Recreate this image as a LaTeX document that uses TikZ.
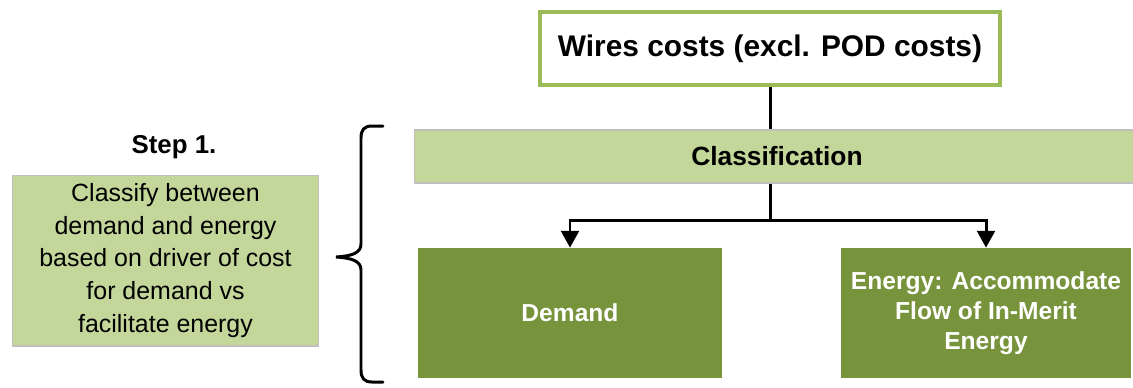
\documentclass[tikz,border=0pt]{standalone}
\usepackage{fontspec}
\setmainfont{Liberation Sans}
\usepackage{tikz}
\usetikzlibrary{arrows.meta, calc, positioning}

\definecolor{lightolive}{HTML}{C4D79B}
\definecolor{darkolive}{HTML}{77933C}
\definecolor{midolive}{HTML}{9BBB59}
\definecolor{edgegray}{HTML}{BFBFBF}

\tikzset{
    wiresbox/.style={draw=midolive, line width=2.3pt, fill=white, minimum width=9.2cm, minimum height=1.46cm,
        font=\fontsize{17}{20}\selectfont\bfseries},
    classbar/.style={draw=edgegray, line width=0.6pt, fill=lightolive, minimum width=14.52cm, minimum height=1.06cm,
        font=\fontsize{15}{17}\selectfont\bfseries},
    costbox/.style={fill=darkolive, text=white, minimum height=2.6cm, align=center,
        font=\fontsize{14}{17}\selectfont\bfseries},
    notebox/.style={draw=edgegray, line width=0.6pt, fill=lightolive, minimum width=6.14cm, minimum height=3.42cm,
        align=center, font=\fontsize{14.2}{18.7}\selectfont},
    flow/.style={line width=1.7pt},
    flowarrow/.style={flow, -{Triangle[width=10pt, length=9.5pt]}},
}

\begin{document}
\begin{tikzpicture}[x=0.02cm, y=-0.02cm]
    \useasboundingbox (0, 0) rectangle (1133, 387);

    \node[wiresbox] (wires) at (770, 48.5) {Wires costs (excl. POD costs)};
    \node[classbar] (classif) at (777, 156.5) {Classification};
    \node[costbox, minimum width=6.08cm] (demand) at (570, 313) {Demand};
    \node[costbox, minimum width=5.8cm] (energy) at (986, 313) {Energy: Accommodate\\Flow of In-Merit\\Energy};

    \node[anchor=base, font=\fontsize{14.7}{17}\selectfont\bfseries] (step) at (174, 153) {Step 1.};
    \node[notebox] (note) at (165.5, 260.5) {Classify between\\demand and energy\\based on driver of cost\\for demand vs\\facilitate energy};

    % connectors
    \coordinate (split) at (770, 220);
    \draw[flow] (wires.south) -- (wires.south |- classif.north);
    \draw[flow] (split |- classif.south) -- (split);
    \draw[flowarrow] (split) -| (demand.north);
    \draw[flowarrow] (split) -| (energy.north);

    % brace
    \draw[flow, line cap=round]
        (383, 126) -- (372, 126) .. controls (364, 126) and (361, 130) .. (361, 138)
        -- (361, 244) .. controls (361, 253) and (352, 256) .. (336, 257)
        .. controls (352, 258) and (361, 261) .. (361, 270)
        -- (361, 370) .. controls (361, 378) and (364, 382) .. (372, 382) -- (383, 382);
\end{tikzpicture}
\end{document}
